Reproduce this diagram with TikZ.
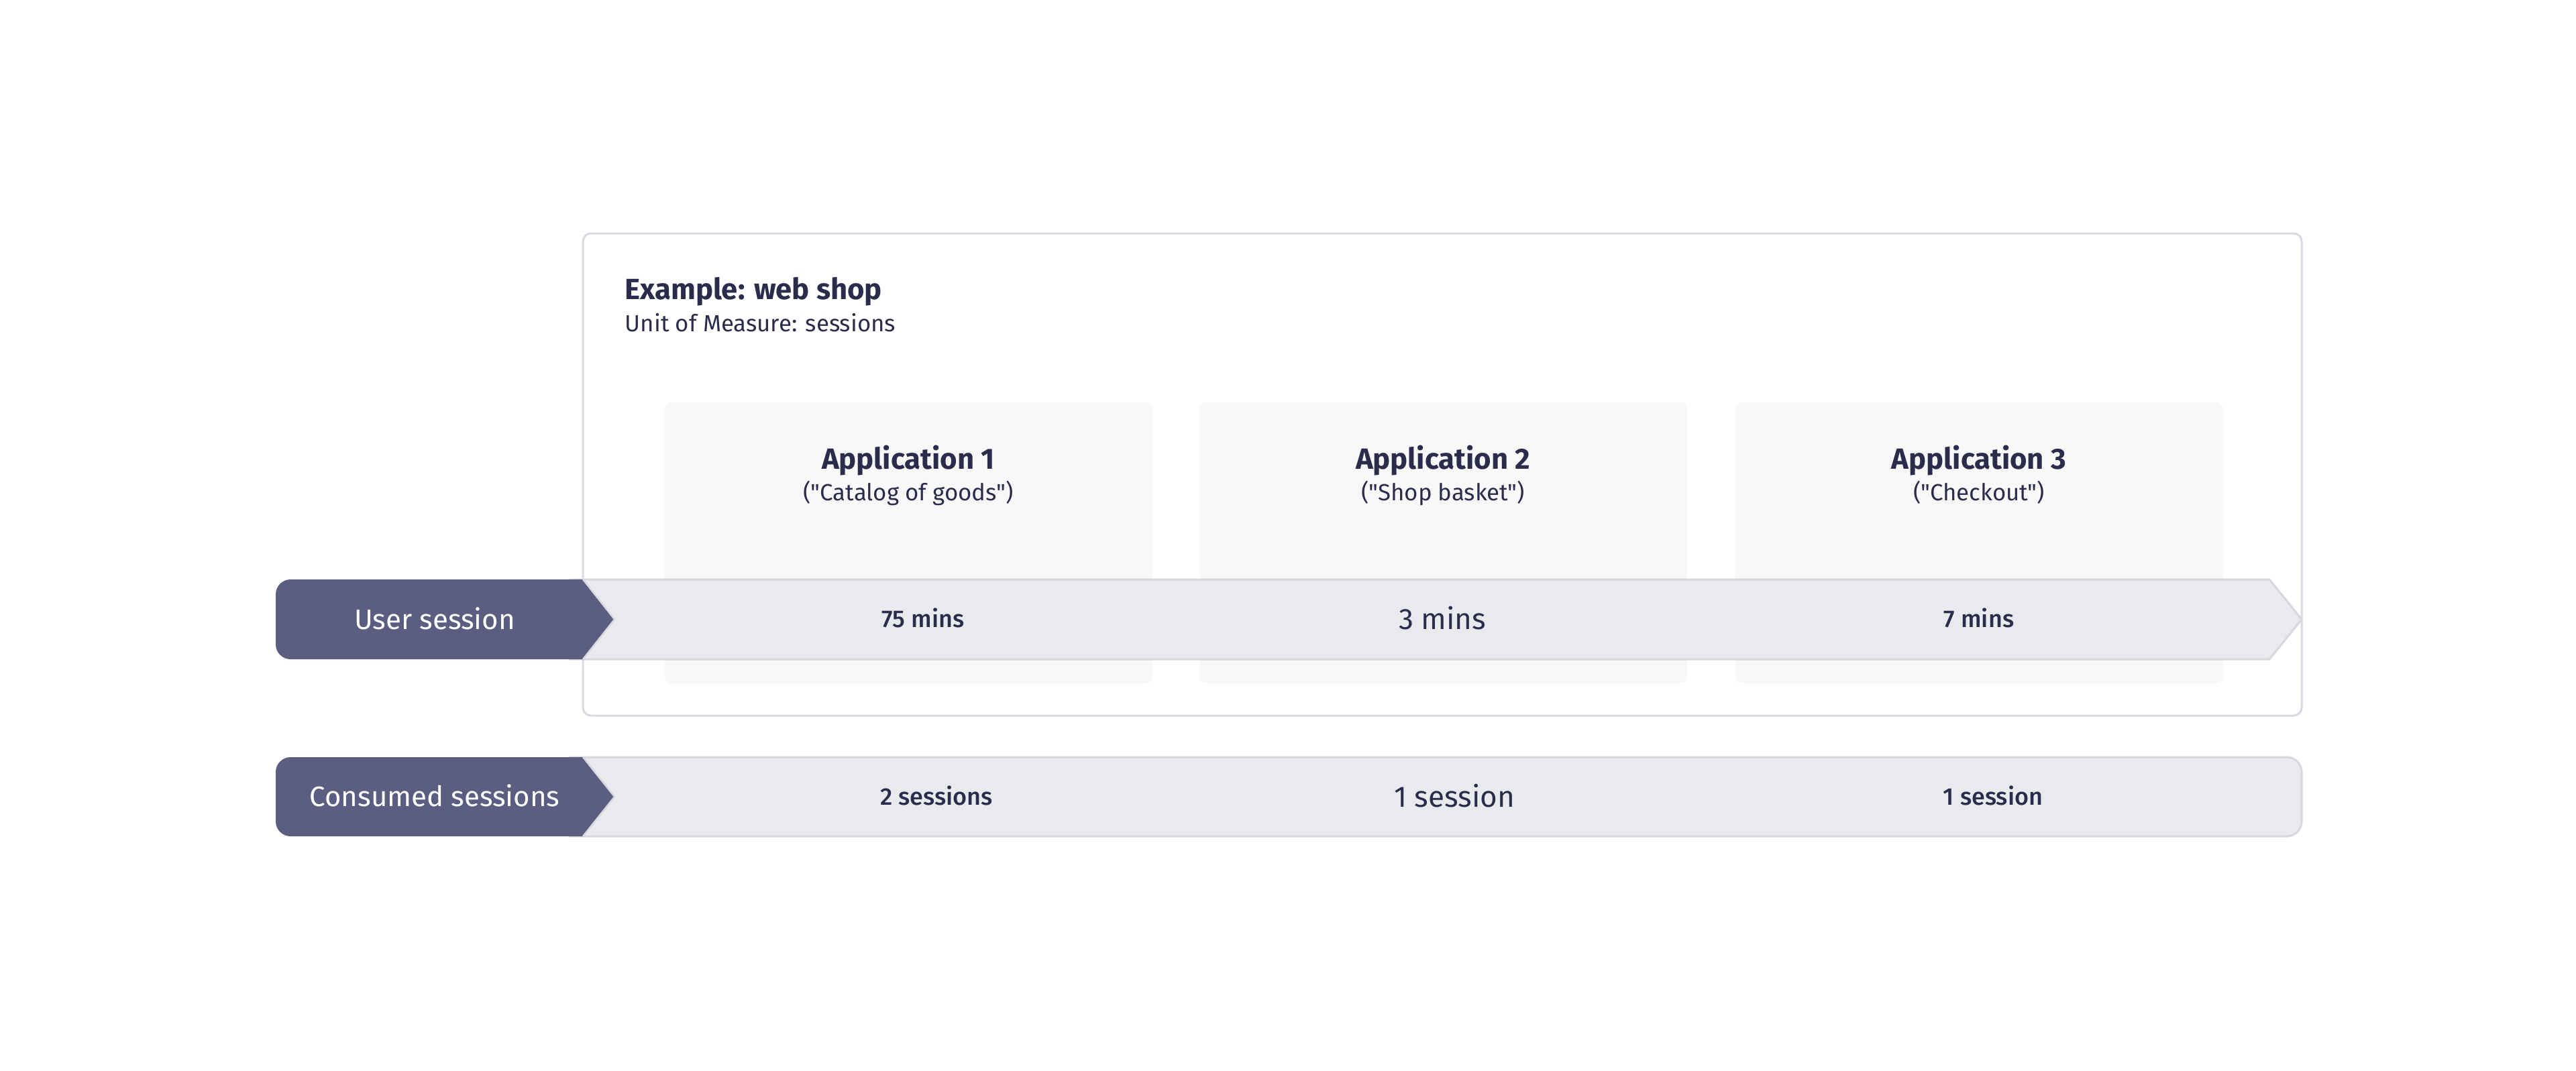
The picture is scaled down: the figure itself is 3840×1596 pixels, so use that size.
\documentclass[tikz,border=0pt]{standalone}
\usepackage{fontspec}
\setmainfont{Fira Sans}[Ligatures=TeXOff]
\newfontfamily\firamed{Fira Sans Medium}[Ligatures=TeXOff]
\definecolor{navy}{HTML}{2B2C4B}
\definecolor{darkc}{HTML}{5B5E80}
\definecolor{barfill}{HTML}{E9EAEE}
\definecolor{barline}{HTML}{D6D7DF}
\definecolor{framec}{HTML}{D8D9E1}
\definecolor{appfill}{HTML}{F8F8F8}
\tikzset{
  framebox/.style={draw=framec, line width=0.75pt, rounded corners=3pt, fill=white, inner sep=0pt, outer sep=0pt},
  appbox/.style={fill=appfill, rounded corners=2.5pt, inner sep=0pt, outer sep=0pt, minimum width=181.75pt, minimum height=104.75pt},
  headtxt/.style={font=\bfseries\fontsize{10.9pt}{12pt}\selectfont, text=navy, inner sep=0pt},
  subtxt/.style={font=\fontsize{8.7pt}{10pt}\selectfont, text=navy, inner sep=0pt},
  labeltxt/.style={font=\fontsize{10.5pt}{12pt}\selectfont, text=white, inner sep=0pt},
  valtxt/.style={font=\firamed\fontsize{9pt}{11pt}\selectfont, text=navy, inner sep=0pt},
  bigvaltxt/.style={font=\fontsize{11pt}{13pt}\selectfont, text=navy, inner sep=0pt},
  barshape/.style={fill=barfill, draw=barline, line width=0.75pt},
  darkshape/.style={fill=darkc},
}
\begin{document}
\begin{tikzpicture}[x=0.25pt,y=-0.25pt]
\useasboundingbox (0,0) rectangle (3840,1596);
\fill[white] (0,0) rectangle (3840,1596);

% outer frame
\node[framebox, minimum width=640.5pt, minimum height=179.75pt] (frame) at (2150,707.5) {};
\node[headtxt, anchor=base west] (title) at (931,446) {Example: web shop};
\node[subtxt, anchor=base west] (uom) at (931,494) {Unit of Measure: sessions};

% application boxes
\node[appbox] (app1) at (1354.5,809.5) {};
\node[appbox] (app2) at (2151.5,809.5) {};
\node[appbox] (app3) at (2950.5,809.5) {};
\node[headtxt, anchor=base] (a1t) at (1354,699) {Application 1};
\node[subtxt, anchor=base] (a1s) at (1354,746) {("Catalog of goods")};
\node[headtxt, anchor=base] (a2t) at (2151,699) {Application 2};
\node[subtxt, anchor=base] (a2s) at (2151,746) {("Shop basket")};
\node[headtxt, anchor=base] (a3t) at (2950,699) {Application 3};
\node[subtxt, anchor=base] (a3s) at (2950,746) {("Checkout")};

% user session bar
\path[barshape] (850,864) -- (3383,864) -- (3431,923.5) -- (3383,983) -- (850,983) -- cycle;
\path[darkshape] (869,864) -- (433,864) .. controls (421,864) and (411,874) .. (411,886)
  -- (411,961) .. controls (411,973) and (421,983) .. (433,983) -- (869,983) -- (916,923.5) -- cycle;
\draw[barline, line width=0.6pt] (869,864) -- (916,923.5) -- (869,983);
\node[labeltxt, anchor=base] (us) at (648,938) {User session};
\node[valtxt, anchor=base] (v1) at (1376,935.5) {75 mins};
\node[bigvaltxt, anchor=base] (v2) at (2150,938.5) {3 mins};
\node[valtxt, anchor=base] (v3) at (2950,935.5) {7 mins};

% consumed sessions bar
\path[barshape] (850,1129) -- (3409,1129) .. controls (3421,1129) and (3431,1139) .. (3431,1151)
  -- (3431,1225) .. controls (3431,1237) and (3421,1247) .. (3409,1247) -- (850,1247) -- cycle;
\path[darkshape] (869,1129) -- (433,1129) .. controls (421,1129) and (411,1139) .. (411,1151)
  -- (411,1225) .. controls (411,1237) and (421,1247) .. (433,1247) -- (869,1247) -- (916,1188) -- cycle;
\draw[barline, line width=0.6pt] (869,1129) -- (916,1188) -- (869,1247);
\node[labeltxt, anchor=base] (cs) at (648,1202.5) {Consumed sessions};
\node[valtxt, anchor=base] (c1) at (1396,1200.5) {2 sessions};
\node[bigvaltxt, anchor=base] (c2) at (2168,1203) {1 session};
\node[valtxt, anchor=base] (c3) at (2971,1200.5) {1 session};
\end{tikzpicture}
\end{document}
